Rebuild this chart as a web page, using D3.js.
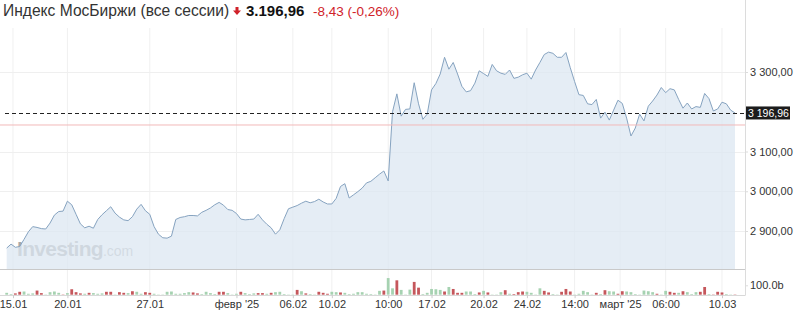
<!DOCTYPE html>
<html><head><meta charset="utf-8">
<script src="https://cdn.jsdelivr.net/npm/d3@7"></script>
<style>
html,body{margin:0;padding:0;background:#fff;}
svg{display:block;font-family:"Liberation Sans",Arial,sans-serif;}
</style></head>
<body>
<svg id="chart" width="794" height="315"></svg>
<script>
const titleName = "Индекс МосБиржи (все сессии)";
const lastPrice = 3196.96;
const lastPriceText = "3.196,96";
const changeText = "-8,43";
const changePctText = "(-0,26%)";
const lastPriceAxisText = "3 196,96";
const refLevel = 3166.7;

const price = [2857,2867,2859,2861,2879,2898,2911,2909,2906,2905,
2920,2940,2949,2950,2975,2966,2942,2918,2908,2912,
2907,2929,2941,2951,2961,2945,2935,2928,2926,2936,
2955,2967,2951,2942,2911,2892,2883,2882,2887,2929,
2934,2936,2939,2939,2938,2947,2952,2958,2966,2972,
2965,2954,2952,2944,2930,2928,2929,2930,2942,2928,
2917,2908,2892,2903,2931,2956,2960,2964,2970,2975,
2971,2974,2980,2973,2968,2968,2982,3012,3019,2983,
2991,2999,3008,3021,3025,3034,3043,3051,3026,3200,
3245,3189,3206,3207,3273,3220,3181,3194,3255,3271,
3295,3337,3307,3324,3295,3264,3250,3253,3272,3303,
3296,3289,3319,3303,3297,3294,3305,3284,3287,3293,
3297,3282,3305,3324,3344,3350,3347,3337,3337,3349,
3311,3276,3243,3241,3220,3218,3231,3184,3199,3179,
3204,3229,3221,3184,3139,3159,3194,3177,3214,3227,
3242,3261,3248,3258,3255,3231,3209,3222,3207,3213,
3211,3246,3233,3202,3207,3224,3220,3204,3196.96];

const volume = [20,7,14,31,34,10,14,44,17,3,
27,34,20,3,17,58,27,14,10,20,
17,10,14,31,31,3,27,20,17,37,
31,10,27,20,10,3,3,31,34,10,
10,17,27,24,14,7,31,17,7,31,
31,17,3,10,31,17,7,14,17,17,
10,20,27,31,7,3,3,51,37,14,
7,3,31,20,10,31,27,24,20,7,
10,27,27,10,7,3,41,44,177,68,
153,51,3,54,136,75,7,20,61,58,
51,34,82,61,20,20,34,34,7,24,
41,24,3,3,27,48,10,7,27,34,
31,20,3,68,41,24,7,3,31,61,
34,3,10,41,27,3,20,7,48,37,
34,10,37,34,27,7,3,44,37,27,
10,3,41,31,20,20,37,27,7,27,
31,82,7,3,31,24,7,3,3];

const volumeUp = [1,1,0,0,1,1,1,0,0,1,
1,1,1,0,1,0,0,0,1,0,
1,1,1,0,0,1,0,0,1,0,
1,1,0,0,1,1,1,1,1,1,
1,1,1,0,0,1,1,1,1,0,
0,1,1,1,0,1,1,1,0,0,
1,0,1,1,1,1,1,0,1,0,
1,1,0,0,0,1,1,0,1,1,
1,1,1,1,1,1,1,0,1,1,
0,1,1,1,0,0,1,1,1,1,
1,0,1,0,0,0,1,1,1,0,
1,0,1,1,1,0,1,0,0,0,
1,1,1,1,0,0,1,1,0,0,
0,1,1,1,1,1,0,1,0,1,
1,0,0,1,1,1,1,1,1,1,
0,1,1,0,0,1,0,1,1,1,
0,0,1,0,0,0,1,1,0];

const xTickLabels = ["15.01","20.01","27.01","февр '25","06.02","10.02","10:00","17.02","20.02","24.02","14:00","март '25","06:00","10.03"];
const xTickIndex = [1.45,14,33,53,66,75,88,98,110,120,131,141.5,152,165];
const yTicks = [2900,3000,3100,3300];
const yTickLabels = ["2 900,00","3 000,00","3 100,00","3 300,00"];
const volTick = 100;
const volTickLabel = "100.0b";

const svg = d3.select("#chart");
const plotRight = 745;
const priceBottom = 269;
const volBottom = 294.7;

const x = d3.scaleLinear().domain([0, price.length - 1]).range([6.7, 735]);
const y = d3.scaleLinear().domain([2900, 3300]).range([231, 72]);
const yv = d3.scaleLinear().domain([0, volTick]).range([volBottom, 285.3]);

// vertical grid lines
svg.append("g").selectAll("line").data(xTickIndex).join("line")
  .attr("x1", d => x(d)).attr("x2", d => x(d))
  .attr("y1", 28).attr("y2", volBottom)
  .attr("stroke", "#f0f0f0").attr("stroke-width", 1);

// horizontal grid lines
svg.append("g").selectAll("line").data(yTicks).join("line")
  .attr("x1", 0).attr("x2", plotRight)
  .attr("y1", d => Math.round(y(d)) + 0.5).attr("y2", d => Math.round(y(d)) + 0.5)
  .attr("stroke", "#efefef").attr("stroke-width", 1);

// watermark
const wm = svg.append("text").attr("x", 17).attr("y", 256)
  .style("font-family", "'Liberation Sans',Arial,sans-serif");
wm.append("tspan").text("Investing").attr("font-size", 21).attr("font-weight", "bold")
  .attr("fill", "#a9a9a9").attr("letter-spacing", -0.7);
wm.append("tspan").text(".com").attr("font-size", 14).attr("fill", "#b5b5b5");

// area
const area = d3.area().x((d, i) => x(i)).y0(priceBottom).y1(d => y(d));
svg.append("path").datum(price).attr("d", area)
  .attr("fill", "#dce7f2").attr("fill-opacity", 0.75);
const line = d3.line().x((d, i) => x(i)).y(d => y(d));
svg.append("path").datum(price).attr("d", line)
  .attr("fill", "none").attr("stroke", "#86a3c0").attr("stroke-width", 1);

// reference pink line
svg.append("line").attr("x1", 0).attr("x2", plotRight)
  .attr("y1", y(refLevel)).attr("y2", y(refLevel))
  .attr("stroke", "#f2b9b9").attr("stroke-width", 1);

// dashed last price line
svg.append("line").attr("x1", 5).attr("x2", plotRight)
  .attr("y1", Math.round(y(lastPrice)) + 0.5).attr("y2", Math.round(y(lastPrice)) + 0.5)
  .attr("stroke", "#222").attr("stroke-width", 1).attr("stroke-dasharray", "4,3");

// pane borders
svg.append("line").attr("x1", 0).attr("x2", plotRight).attr("y1", priceBottom + 0.5).attr("y2", priceBottom + 0.5)
  .attr("stroke", "#c9c9c9");
svg.append("line").attr("x1", 0).attr("x2", plotRight).attr("y1", volBottom + 0.8).attr("y2", volBottom + 0.8)
  .attr("stroke", "#d8d8d8");
svg.append("line").attr("x1", plotRight + 0.5).attr("x2", plotRight + 0.5).attr("y1", 0).attr("y2", volBottom + 1)
  .attr("stroke", "#dcdcdc");

// volume bars
svg.append("g").selectAll("rect").data(volume).join("rect")
  .attr("x", (d, i) => x(i) - 1.4).attr("width", 2.8)
  .attr("y", d => yv(d)).attr("height", d => volBottom - yv(d))
  .attr("fill", (d, i) => volumeUp[i] ? "#a6d2b1" : "#c5575c");

// right axis
const yAxis = d3.axisRight(y).tickValues(yTicks).tickSize(3)
  .tickFormat((d, i) => yTickLabels[i]);
const ga = svg.append("g").attr("transform", `translate(${plotRight},0)`).call(yAxis);
ga.select(".domain").remove();
ga.selectAll(".tick line").attr("stroke", "#dcdcdc");
ga.selectAll(".tick text").attr("fill", "#333").attr("font-size", 11)
  .attr("x", 5).style("font-family", "'Liberation Sans',Arial,sans-serif");

const vAxis = d3.axisRight(yv).tickValues([volTick]).tickSize(3).tickFormat(() => volTickLabel);
const gv = svg.append("g").attr("transform", `translate(${plotRight},0)`).call(vAxis);
gv.select(".domain").remove();
gv.selectAll(".tick line").attr("stroke", "#dcdcdc");
gv.selectAll(".tick text").attr("fill", "#333").attr("font-size", 11)
  .attr("x", 5).style("font-family", "'Liberation Sans',Arial,sans-serif");

// last price box
const ly = y(lastPrice);
svg.append("rect").attr("x", plotRight + 1).attr("y", ly - 6.5).attr("width", 44).attr("height", 13)
  .attr("fill", "#1c1c1c");
svg.append("text").attr("x", plotRight + 3).attr("y", ly + 4)
  .attr("fill", "#fff").attr("font-size", 10.5).text(lastPriceAxisText);

// bottom axis
const xAxis = d3.axisBottom(x).tickValues(xTickIndex).tickSize(3)
  .tickFormat((d, i) => xTickLabels[i]);
const gx = svg.append("g").attr("transform", `translate(0,${volBottom + 0.5})`).call(xAxis);
gx.select(".domain").remove();
gx.selectAll(".tick line").attr("stroke", "#ccc");
gx.selectAll(".tick text").attr("fill", "#333").attr("font-size", 11).attr("y", 5)
  .style("font-family", "'Liberation Sans',Arial,sans-serif");

// title
svg.append("text").attr("x", 3).attr("y", 15.5).attr("font-size", 15.6)
  .attr("fill", "#333").text(titleName);
// arrow
const ax = 237, ay = 7;
svg.append("path")
  .attr("d", `M${ax - 1.5},${ay} h3 v3.5 h2.5 l-4,4.5 l-4,-4.5 h2.5 z`)
  .attr("fill", "#d0222a");
svg.append("text").attr("x", 246).attr("y", 15.5).attr("font-size", 15)
  .attr("font-weight", "bold").attr("fill", "#111").text(lastPriceText);
svg.append("text").attr("x", 313).attr("y", 15.5).attr("font-size", 13.5)
  .attr("fill", "#d0222a").text(changeText + " " + changePctText);
</script>
</body></html>
